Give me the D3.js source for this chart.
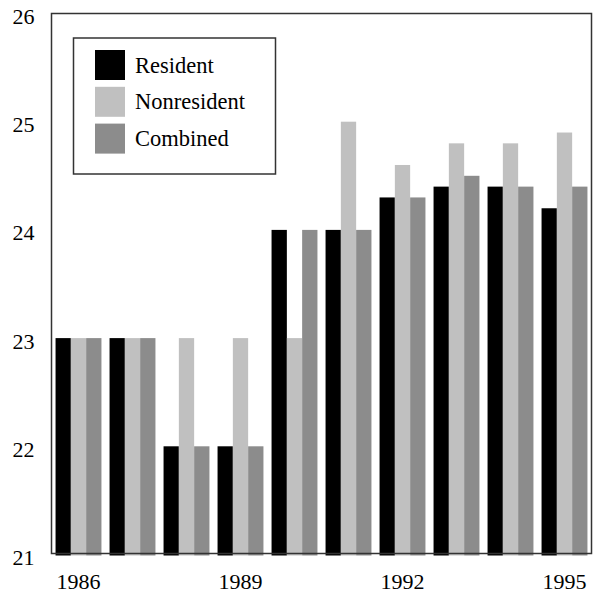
<!DOCTYPE html>
<html><head><meta charset="utf-8">
<script src="https://cdn.jsdelivr.net/npm/d3@7"></script>
<style>body{margin:0;background:#fff}svg{display:block}text{font-family:"Liberation Serif","Times New Roman",serif}</style>
</head><body>
<script>
const years = [1986,1987,1988,1989,1990,1991,1992,1993,1994,1995];
const resident    = [23,23,22,22,24,24,24.3,24.4,24.4,24.2];
const nonresident = [23,23,23,23,23,25,24.6,24.8,24.8,24.9];
const combined    = [23,23,22,22,24,24,24.3,24.5,24.4,24.4];
const seriesNames = ["Resident","Nonresident","Combined"];
const seriesColors = ["#000000","#c0c0c0","#8c8c8c"];
const yTicks = [21,22,23,24,25,26];
const xTickLabels = [1986,1989,1992,1995];

const W=600,H=593;
const svg=d3.select("body").append("svg").attr("width",W).attr("height",H);
const L=51.5,R=591.5,T=13.5,B=554.5;
const x0=d3.scaleBand().domain(years).range([L,R]).paddingInner(0.15).paddingOuter(0.075);
const x1=d3.scaleBand().domain(seriesNames).range([0,x0.bandwidth()]);
const y=d3.scaleLinear().domain([21,26]).range([B,T]);
const seriesVals=[resident,nonresident,combined];

// bars
seriesNames.forEach((s,si)=>{
  svg.append("g").selectAll("rect").data(years).join("rect")
    .attr("x",(d)=>x0(d)+x1(s))
    .attr("width",x1.bandwidth())
    .attr("y",(d,i)=>y(seriesVals[si][i]))
    .attr("height",(d,i)=>y(21)-y(seriesVals[si][i])+1)
    .attr("fill",seriesColors[si]);
});

// frame
svg.append("rect").attr("x",L).attr("y",T).attr("width",R-L).attr("height",B-T-1)
  .attr("fill","none").attr("stroke","#333").attr("stroke-width",1.5);

// y axis labels
const yAxis=d3.axisLeft(y).tickValues(yTicks).tickSize(0).tickPadding(17).tickFormat(d3.format("d"));
const gy=svg.append("g").attr("transform",`translate(${L},0)`).call(yAxis);
gy.select(".domain").remove();
gy.selectAll("text").attr("font-size",22).attr("fill","#000").attr("dy","0.45em");

// x axis labels
const xAxis=d3.axisBottom(x0).tickValues(xTickLabels).tickSize(0).tickPadding(19).tickFormat(d3.format("d"));
const gx=svg.append("g").attr("transform",`translate(0,${B})`).call(xAxis);
gx.select(".domain").remove();
gx.selectAll("text").attr("font-size",22).attr("fill","#000");

// legend
const lg=svg.append("g");
lg.append("rect").attr("x",73.5).attr("y",38).attr("width",202).attr("height",136)
  .attr("fill","#fff").attr("stroke","#333").attr("stroke-width",1.5);
seriesNames.forEach((s,i)=>{
  const cy=65+i*36.8;
  lg.append("rect").attr("x",95).attr("y",cy-15).attr("width",30).attr("height",30).attr("fill",seriesColors[i]);
  lg.append("text").attr("x",135).attr("y",cy+7.6).attr("font-size",22.5).text(s);
});
</script>
</body></html>
